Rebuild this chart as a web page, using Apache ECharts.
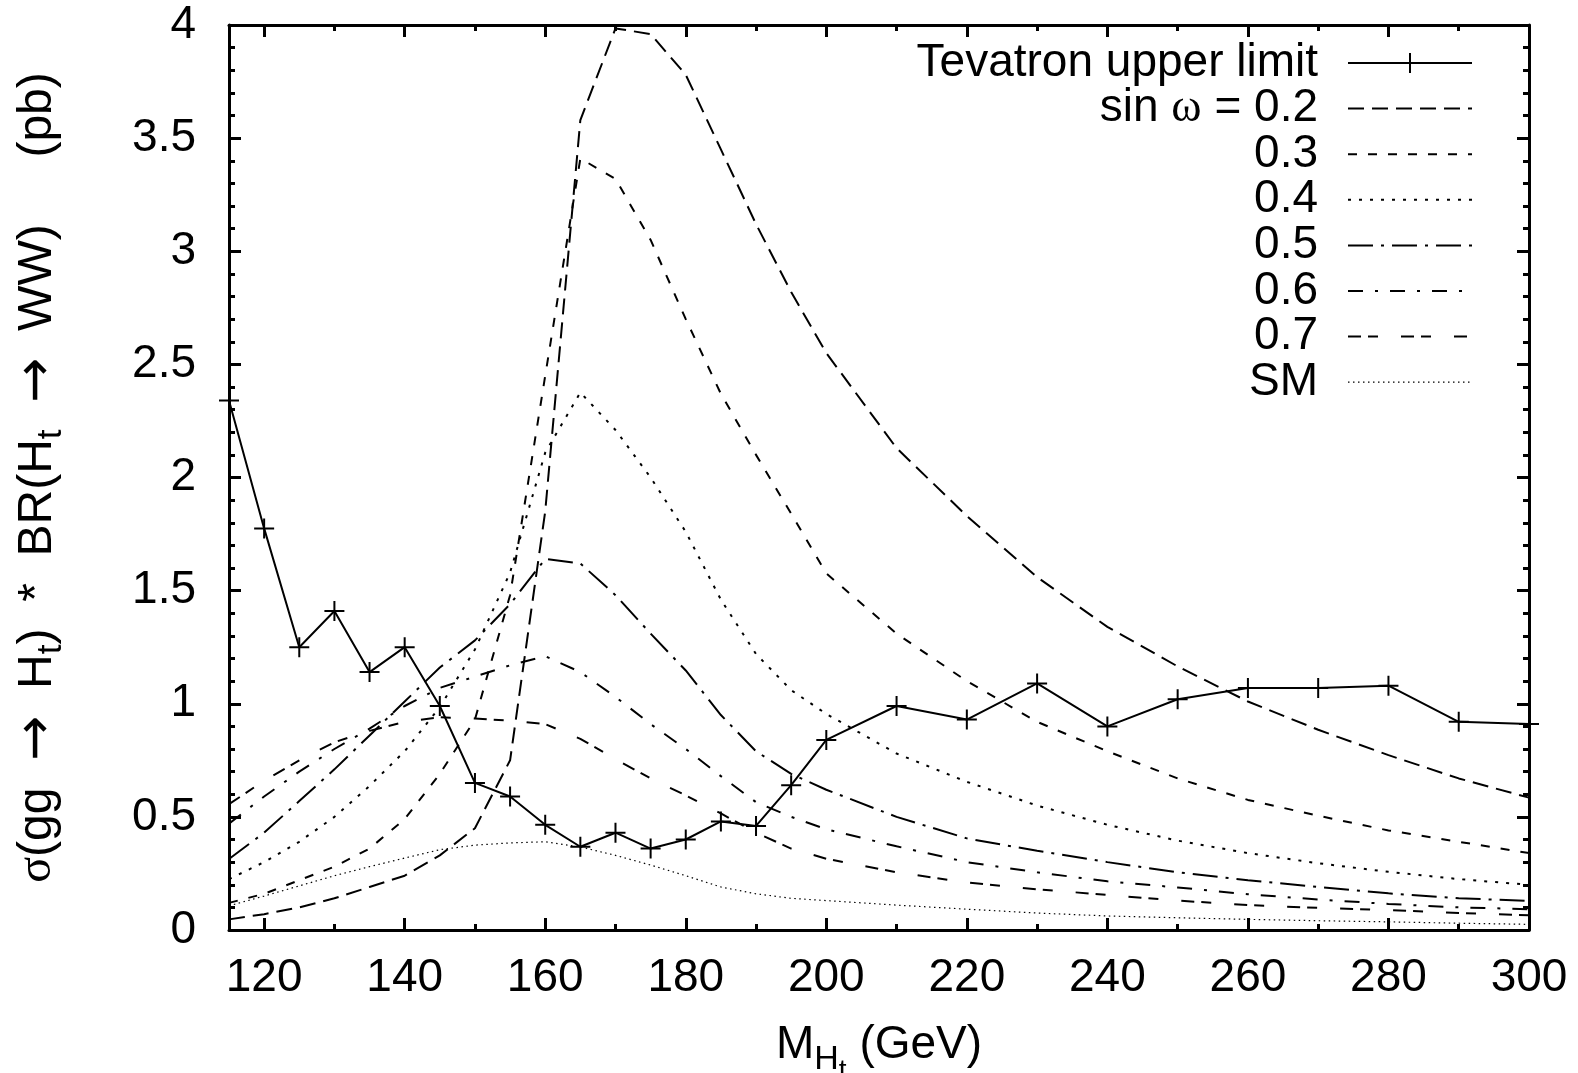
<!DOCTYPE html>
<html>
<head>
<meta charset="utf-8">
<script src="https://cdn.jsdelivr.net/npm/echarts@6/dist/echarts.min.js"></script>
<style>
html,body{margin:0;padding:0;background:#fff;}
#chart{width:1578px;height:1073px;}
</style>
</head>
<body>
<div id="chart"></div>
<script>
// ---- data ----
const massGeV = [115,120,125,130,135,140,145,150,155,160,165,170,175,180,185,190,195,200,210,220,230,240,250,260,270,280,290,300];
const tevatronLimit = [2.34,1.775,1.25,1.41,1.14,1.25,0.99,0.65,0.59,0.465,0.368,0.43,0.36,0.40,0.48,0.46,0.64,0.84,0.99,0.93,1.09,0.90,1.02,1.07,1.07,1.08,0.92,0.91];
const sin02 = [0.047,0.07,0.10,0.14,0.19,0.24,0.33,0.45,0.75,1.85,3.58,3.985,3.96,3.78,3.45,3.12,2.82,2.55,2.13,1.83,1.56,1.34,1.165,1.01,0.885,0.773,0.67,0.585];
const sin03 = [0.12,0.16,0.22,0.28,0.36,0.49,0.69,0.93,1.48,2.45,3.41,3.32,3.05,2.70,2.37,2.10,1.84,1.576,1.31,1.10,0.92,0.79,0.67,0.575,0.505,0.44,0.39,0.34];
const sin04 = [0.225,0.30,0.39,0.50,0.637,0.79,0.985,1.24,1.58,2.11,2.376,2.21,2.00,1.76,1.46,1.22,1.06,0.955,0.78,0.655,0.55,0.465,0.395,0.34,0.295,0.257,0.225,0.20];
const sin05 = [0.314,0.43,0.57,0.71,0.86,1.01,1.16,1.28,1.44,1.64,1.62,1.48,1.31,1.147,0.95,0.79,0.69,0.62,0.50,0.405,0.35,0.30,0.255,0.22,0.19,0.162,0.14,0.129];
const sin06 = [0.47,0.59,0.70,0.80,0.89,0.99,1.07,1.12,1.17,1.21,1.14,1.03,0.91,0.80,0.68,0.565,0.50,0.445,0.37,0.30,0.255,0.215,0.188,0.158,0.135,0.115,0.10,0.092];
const sin07 = [0.556,0.66,0.75,0.83,0.88,0.92,0.94,0.935,0.925,0.91,0.845,0.755,0.67,0.595,0.515,0.43,0.36,0.315,0.255,0.21,0.18,0.155,0.13,0.11,0.098,0.088,0.075,0.065];
const smCurve = [0.107,0.15,0.195,0.24,0.28,0.318,0.355,0.375,0.385,0.39,0.367,0.33,0.287,0.24,0.19,0.16,0.14,0.13,0.11,0.092,0.075,0.062,0.054,0.047,0.041,0.036,0.03,0.025];

const xMajorTicks = [120,140,160,180,200,220,240,260,280,300];
const xMinorTicks = [130,150,170,190,210,230,250,270,290];
const legendLabels = ['Tevatron upper limit','sin ω = 0.2','0.3','0.4','0.5','0.6','0.7','SM'];

// ---- styles ----
const FONT = "'Liberation Sans', Arial, Helvetica, sans-serif";
const SERIF = "'Liberation Serif', 'DejaVu Serif', serif";
const ARROWF = "'DejaVu Sans', sans-serif";
const FS = 46;
const YFS = 48;
const styles = [
  {type:'solid', width:2},
  {type:[16,8], width:2},
  {type:[9,11], width:2},
  {type:[3,8], width:2},
  {type:[25,8,3,8], width:2},
  {type:[15,12,3,12], width:2},
  {type:[13,7,10,23], width:2},
  {type:[1.5,3.5], width:1.2}
];
const seriesValues = [tevatronLimit, sin02, sin03, sin04, sin05, sin06, sin07, smCurve];
const plusPath = 'path://M9,0H11V9H20V11H11V20H9V11H0V9H9Z';

const series = seriesValues.map((vals, i) => ({
  name: legendLabels[i],
  type: 'line',
  xAxisIndex: 0, yAxisIndex: 0,
  data: massGeV.map((x, k) => [x, vals[k]]),
  showSymbol: i === 0,
  symbol: i === 0 ? plusPath : 'none',
  symbolSize: 20,
  itemStyle: {color: '#000'},
  lineStyle: {color: '#000', width: styles[i].width, type: styles[i].type},
  clip: false,
  silent: true,
  z: 10 - i
}));

// ---- legend drawn as graphic (right-aligned text, sample lines) ----
const legTextRight = 1318, legLineX1 = 1348, legLineX2 = 1472, legY0 = 63, legStep = 45.6;
const graphics = [];
legendLabels.forEach((lab, i) => {
  const y = legY0 + i * legStep;
  const txt = lab.indexOf('ω') >= 0 ? '{a|sin }{w|ω}{a| = 0.2}' : '{a|' + lab + '}';
  graphics.push({
    type: 'text', x: legTextRight, y: y,
    style: {text: txt, align: 'right', verticalAlign: 'middle', fill: '#000',
      rich: {a: {fontSize: FS, fontFamily: FONT, fill: '#000'}, w: {fontSize: FS, fontFamily: SERIF, fill: '#000'}}}
  });
  graphics.push({
    type: 'line', shape: {x1: legLineX1, y1: y, x2: legLineX2, y2: y},
    style: {stroke: '#000', lineWidth: styles[i].width, lineDash: styles[i].type === 'solid' ? null : styles[i].type}
  });
  if (i === 0) {
    const cx = (legLineX1 + legLineX2) / 2;
    graphics.push({type: 'line', shape: {x1: cx, y1: y - 10, x2: cx, y2: y + 10}, style: {stroke: '#000', lineWidth: 2}});
  }
});

const axisBlack = {lineStyle: {color: '#000', width: 3}};
const majorTick = (vals) => ({show: true, inside: true, length: 12, customValues: vals, lineStyle: {color: '#000', width: 3}});
const minorTickAx = (vals) => ({show: true, inside: true, length: 6, customValues: vals, lineStyle: {color: '#000', width: 3}});

const option = {
  animation: false,
  backgroundColor: '#fff',
  grid: {left: 229, right: 49, top: 25, bottom: 143, containLabel: false, outerBoundsMode: 'none'},
  xAxis: [
    {type: 'value', min: 115, max: 300, position: 'bottom',
     axisLine: axisBlack, axisTick: majorTick(xMajorTicks),
     axisLabel: {customValues: xMajorTicks, fontSize: FS, fontFamily: FONT, color: '#000', margin: 25},
     splitLine: {show: false},
     name: '{n|M}{s|H}{ss|t}{n| (GeV)}', nameLocation: 'middle', nameGap: 75,
     nameTextStyle: {fontSize: FS, fontFamily: FONT, color: '#000',
       rich: {n: {fontSize: FS, fontFamily: FONT, color: '#000'},
              s: {fontSize: 34, fontFamily: FONT, color: '#000', padding: [30, 0, 0, 0]},
              ss: {fontSize: 28, fontFamily: FONT, color: '#000', padding: [52, 0, 0, 0]}}}},
    {type: 'value', min: 115, max: 300, position: 'bottom',
     axisLine: {show: false}, axisTick: minorTickAx(xMinorTicks), axisLabel: {show: false}, splitLine: {show: false}},
    {type: 'value', min: 115, max: 300, position: 'top',
     axisLine: axisBlack, axisTick: majorTick(xMajorTicks), axisLabel: {show: false}, splitLine: {show: false}},
    {type: 'value', min: 115, max: 300, position: 'top',
     axisLine: {show: false}, axisTick: minorTickAx(xMinorTicks), axisLabel: {show: false}, splitLine: {show: false}}
  ],
  yAxis: [
    {type: 'value', min: 0, max: 4, interval: 0.5, position: 'left',
     axisLine: {show: true, lineStyle: {color: '#000', width: 3}},
     axisTick: {show: true, inside: true, length: 12, lineStyle: {color: '#000', width: 3}},
     minorTick: {show: true, splitNumber: 5, length: 6, lineStyle: {color: '#000', width: 3}},
     axisLabel: {fontSize: FS, fontFamily: FONT, color: '#000', margin: 33},
     splitLine: {show: false},
     name: '{g|σ}{n|(gg  }{r|→}{n|  H}{s|t}{n|)  *  BR(H}{s|t}{n|  }{r|→}{n|  WW)     (pb)}',
     nameLocation: 'middle', nameRotate: 90, nameGap: 160,
     nameTextStyle: {fontSize: YFS, fontFamily: FONT, color: '#000',
       rich: {n: {fontSize: YFS, fontFamily: FONT, color: '#000'},
              g: {fontSize: YFS, fontFamily: SERIF, color: '#000'},
              r: {fontSize: 54, fontFamily: ARROWF, color: '#000'},
              s: {fontSize: 35, fontFamily: FONT, color: '#000', padding: [28, 0, 0, 0]}}}},
    {type: 'value', min: 0, max: 4, interval: 0.5, position: 'right',
     axisLine: {show: true, lineStyle: {color: '#000', width: 3}},
     axisTick: {show: true, inside: true, length: 12, lineStyle: {color: '#000', width: 3}},
     minorTick: {show: true, splitNumber: 5, length: 6, lineStyle: {color: '#000', width: 3}},
     axisLabel: {show: false}, splitLine: {show: false}}
  ],
  series: series,
  graphic: graphics
};

const chart = echarts.init(document.getElementById('chart'), null, {renderer: 'canvas'});
chart.setOption(option);
</script>
</body>
</html>
